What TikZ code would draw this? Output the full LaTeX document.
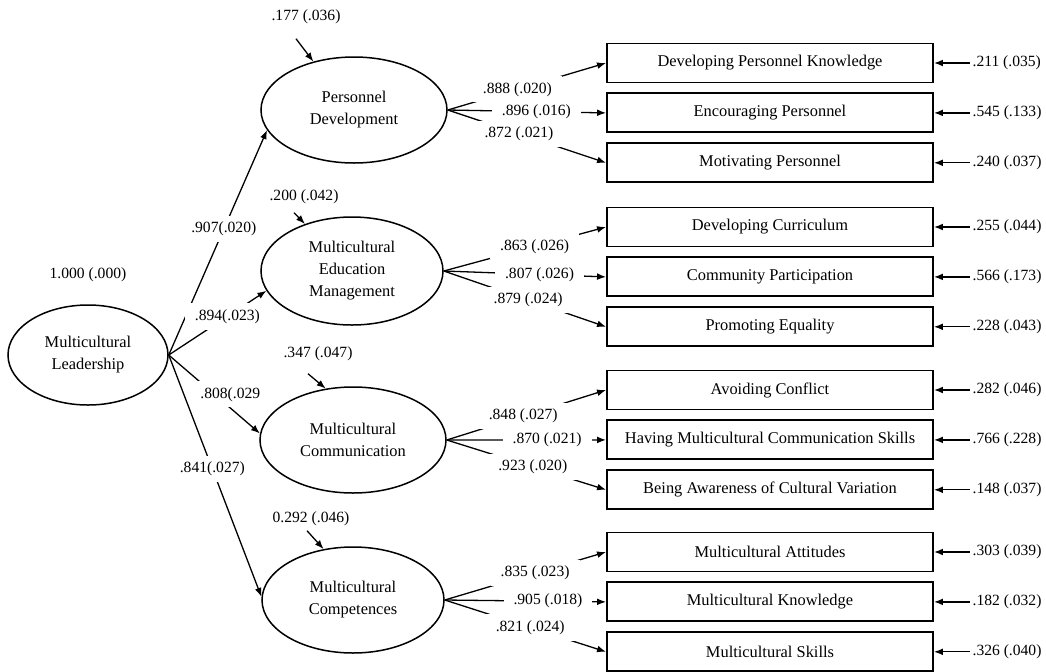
\documentclass[tikz,border=0pt]{standalone}
\usepackage{fontspec}
\setmainfont{Liberation Serif}
\usetikzlibrary{positioning, shapes, arrows.meta}

\begin{document}
\begin{tikzpicture}[x=0.5pt, y=-0.5pt, >={Latex[length=4.5pt,width=3.4pt]}, line width=0.65pt,
      factor/.style={ellipse, draw, line width=0.75pt, minimum width=93pt, minimum height=53pt, inner sep=0pt,
      align=center, font=\fontsize{8.2}{11}\selectfont},
      item/.style={rectangle, draw, line width=0.95pt, minimum width=163pt, minimum height=19.5pt, inner sep=0pt,
      font=\fontsize{8.2}{10}\selectfont},
      coef/.style={fill=white, inner xsep=5pt, inner ysep=3pt, font=\fontsize{7.8}{9}\selectfont},
      err/.style={inner sep=1pt, font=\fontsize{7.8}{9}\selectfont}
    ]
      \useasboundingbox (0,0) rectangle (1046,671);

      % latent variables
      \node[factor, minimum width=80pt, minimum height=50pt] (ml) at (88,355) {Multicultural\\Leadership};
      \node[factor] (pd) at (354,110) {Personnel\\Development};
      \node[factor, minimum width=91pt, minimum height=54pt] (mem) at (352,271) {Multicultural\\Education\\Management};
      \node[factor] (mc) at (353,440) {Multicultural\\Communication};
      \node[factor, minimum width=91pt] (mco) at (353,600) {Multicultural\\Competences};

      \node[err, above=10pt of ml] (zml) {1.000 (.000)};
      \node[err] (z1) at (306,17) {.177 (.036)};
      \node[err] (z2) at (304,197) {.200 (.042)};
      \node[err] (z3) at (318,354) {.347 (.047)};
      \node[err] (z4) at (311,519) {0.292 (.046)};

      % observed variables
      \node[item] (b11) at (770,63) {Developing Personnel Knowledge};
      \node[item, below=4.5pt of b11] (b12) {Encouraging Personnel};
      \node[item, below=4.5pt of b12] (b13) {Motivating Personnel};
      \node[item] (b21) at (770,227) {Developing Curriculum};
      \node[item, below=4.5pt of b21] (b22) {Community Participation};
      \node[item, below=4.5pt of b22] (b23) {Promoting Equality};
      \node[item] (b31) at (770,390) {Avoiding Conflict};
      \node[item, below=4.5pt of b31] (b32) {Having Multicultural Communication Skills};
      \node[item, below=4.5pt of b32] (b33) {Being Awareness of Cultural Variation};
      \node[item] (b41) at (770,552) {Multicultural Attitudes};
      \node[item, below=4.5pt of b41] (b42) {Multicultural Knowledge};
      \node[item, below=4.5pt of b42] (b43) {Multicultural Skills};

      % error terms
      \node[err, right=18pt of b11] (e11) {.211 (.035)};
      \node[err, right=18pt of b12] (e12) {.545 (.133)};
      \node[err, right=18pt of b13] (e13) {.240 (.037)};
      \node[err, right=18pt of b21] (e21) {.255 (.044)};
      \node[err, right=18pt of b22] (e22) {.566 (.173)};
      \node[err, right=18pt of b23] (e23) {.228 (.043)};
      \node[err, right=18pt of b31] (e31) {.282 (.046)};
      \node[err, right=18pt of b32] (e32) {.766 (.228)};
      \node[err, right=18pt of b33] (e33) {.148 (.037)};
      \node[err, right=18pt of b41] (e41) {.303 (.039)};
      \node[err, right=18pt of b42] (e42) {.182 (.032)};
      \node[err, right=18pt of b43] (e43) {.326 (.040)};

      \foreach \g in {1,2,3,4}
        \foreach \i in {1,2,3}
          \draw[->] (e\g\i) -- (b\g\i);

      % second order paths
      \draw[->] (ml.east) -- node[coef, pos=.56] {.907(.020)} (pd.193);
      \draw[->] (ml.east) -- node[coef, pos=.6] {.894(.023)} (mem.193);
      \draw[->] (ml.east) -- node[coef, pos=.5, xshift=8pt] {.808(.029} (mc.176);
      \draw[->] (ml.east) -- node[coef, pos=.47] {.841(.027)} (mco.178);

      \draw[->] ([xshift=-5pt,yshift=-6pt]z1.south) -- (pd.130);
      \draw[->] ([xshift=-5pt,yshift=-3pt]z2.south) -- (mem.135);
      \draw[->] ([xshift=-5pt,yshift=-5pt]z3.south) -- (mc.118);
      \draw[->] ([xshift=-2pt,yshift=-1pt]z4.south) -- (mco.120);

      % loadings
      \draw[->] (pd.east) -- node[coef, pos=.44] {.888 (.020)} (b11.west);
      \draw[->] (pd.east) -- node[coef, pos=.56] {.896 (.016)} (b12.west);
      \draw[->] (pd.east) -- node[coef, pos=.45] {.872 (.021)} (b13.west);
      \draw[->] (mem.east) -- node[coef, pos=.56] {.863 (.026)} (b21.west);
      \draw[->] (mem.east) -- node[coef, pos=.59] {.807 (.026)} (b22.west);
      \draw[->] (mem.east) -- node[coef, pos=.52] {.879 (.024)} (b23.west);
      \draw[->] (mc.east) -- node[coef, pos=.48] {.848 (.027)} (b31.west);
      \draw[->] (mc.east) -- node[coef, pos=.63] {.870 (.021)} (b32.west);
      \draw[->] (mc.east) -- node[coef, pos=.54] {.923 (.020)} (b33.west);
      \draw[->] (mco.east) -- node[coef, pos=.56] {.835 (.023)} (b41.west);
      \draw[->] (mco.east) -- node[coef, pos=.64] {.905 (.018)} (b42.west);
      \draw[->] (mco.east) -- node[coef, pos=.53] {.821 (.024)} (b43.west);
    \end{tikzpicture}
\end{document}
